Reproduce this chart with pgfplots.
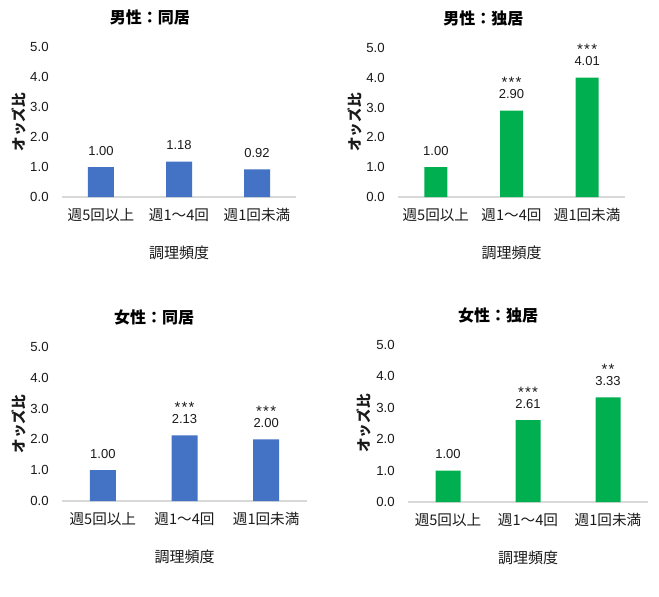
\documentclass[border=0pt]{standalone}
\usepackage{pgfplots}
\pgfplotsset{compat=1.18}
\usepackage{fontspec}
\setmainfont{Liberation Sans}
\newfontfamily\cjk{Noto Sans CJK JP}
\definecolor{barblue}{HTML}{4472C4}
\definecolor{bargreen}{HTML}{00B050}
\definecolor{axgray}{HTML}{D9D9D9}
\definecolor{txt}{HTML}{1A1A1A}
\newcommand{\sep}{\kern0.6pt}

\pgfplotsset{
  panel/.style={
    scale only axis, anchor=south west, clip=false,
    xmin=-0.5, xmax=2.5, ymin=0, ymax=5,
    xtick={0,1,2}, xticklabels={週5回以上,週1～4回,週1回未満},
    ytick={0,1,2,3,4,5},
    axis lines*=left,
    y axis line style={draw=none},
    x axis line style={draw=axgray, line width=0.8pt, -},
    major tick length=0pt,
    tick style={draw=none},
    /pgf/number format/assume math mode=true,
    yticklabel style={/pgf/number format/fixed, /pgf/number format/fixed zerofill, /pgf/number format/precision=1,
      anchor=east, inner sep=0pt, xshift=-6.5pt, font=\fontsize{6.6}{7.5}\selectfont, text=txt},
    xticklabel style={anchor=center, yshift=-9pt, inner sep=0pt, font=\cjk\fontsize{7.3}{8.5}\selectfont, text=txt},
    every axis title/.style={at={(axis description cs:0.376,1)}, anchor=center, yshift=15pt, font=\cjk\bfseries\fontsize{8}{9.5}\selectfont, text=black},
    every axis x label/.style={at={(axis description cs:0.5,0)}, anchor=center, yshift=-28pt, font=\cjk\fontsize{7.5}{9}\selectfont, text=txt},
    xlabel={調理頻度}, ylabel={オッズ比},
  },
  ylab/.style={every axis y label/.style={at={(axis description cs:#1,0.5)}, rotate=90, anchor=center, font=\cjk\bfseries\fontsize{7.3}{9}\selectfont, text=txt}},
  val/.style={ybar, bar shift=0pt, bar width=#1, draw=none,
    nodes near coords={\pgfmathprintnumber[fixed, fixed zerofill, precision=2, assume math mode=true]{\pgfplotspointmeta}},
    every node near coord/.append style={anchor=south, inner sep=0pt, yshift=5.7pt, font=\fontsize{6.5}{7.5}\selectfont, text=txt}},
  stars/.style={draw=none, mark=none, nodes near coords={#1},
    every node near coord/.append style={anchor=south, inner sep=0pt, yshift=11.2pt, font=\fontsize{7.5}{8}\selectfont, text=txt}},
}

\begin{document}
\begin{tikzpicture}
\path[use as bounding box, fill=white] (0pt,0pt) rectangle (329.5pt,-298pt);

\begin{axis}[panel, ylab=-0.184, at={(31pt,-98.5pt)}, width=117pt, height=75pt, title={男性：同居}]
\addplot[val=13pt, fill=barblue] coordinates {(0,1.00) (1,1.18) (2,0.92)};
\end{axis}

\begin{axis}[panel, ylab=-0.189, at={(199pt,-98.5pt)}, width=113.5pt, height=74.5pt, title={男性：独居}]
\addplot[val=11.5pt, fill=bargreen] coordinates {(0,1.00) (1,2.90) (2,4.01)};
\addplot[stars={*\sep*\sep*}] coordinates {(1,2.90) (2,4.01)};
\end{axis}

\begin{axis}[panel, ylab=-0.1755, at={(31pt,-250.5pt)}, width=122.5pt, height=77pt, title={女性：同居}]
\addplot[val=13pt, fill=barblue] coordinates {(0,1.00) (1,2.13) (2,2.00)};
\addplot[stars={*\sep*\sep*}] coordinates {(1,2.13) (2,2.00)};
\end{axis}

\begin{axis}[panel, ylab=-0.183, at={(204pt,-251pt)}, width=120pt, height=78.5pt, title={女性：独居}]
\addplot[val=12.5pt, fill=bargreen] coordinates {(0,1.00) (1,2.61) (2,3.33)};
\addplot[stars={*\sep*\sep*}] coordinates {(1,2.61)};
\addplot[stars={*\sep*}] coordinates {(2,3.33)};
\end{axis}
\end{tikzpicture}
\end{document}
